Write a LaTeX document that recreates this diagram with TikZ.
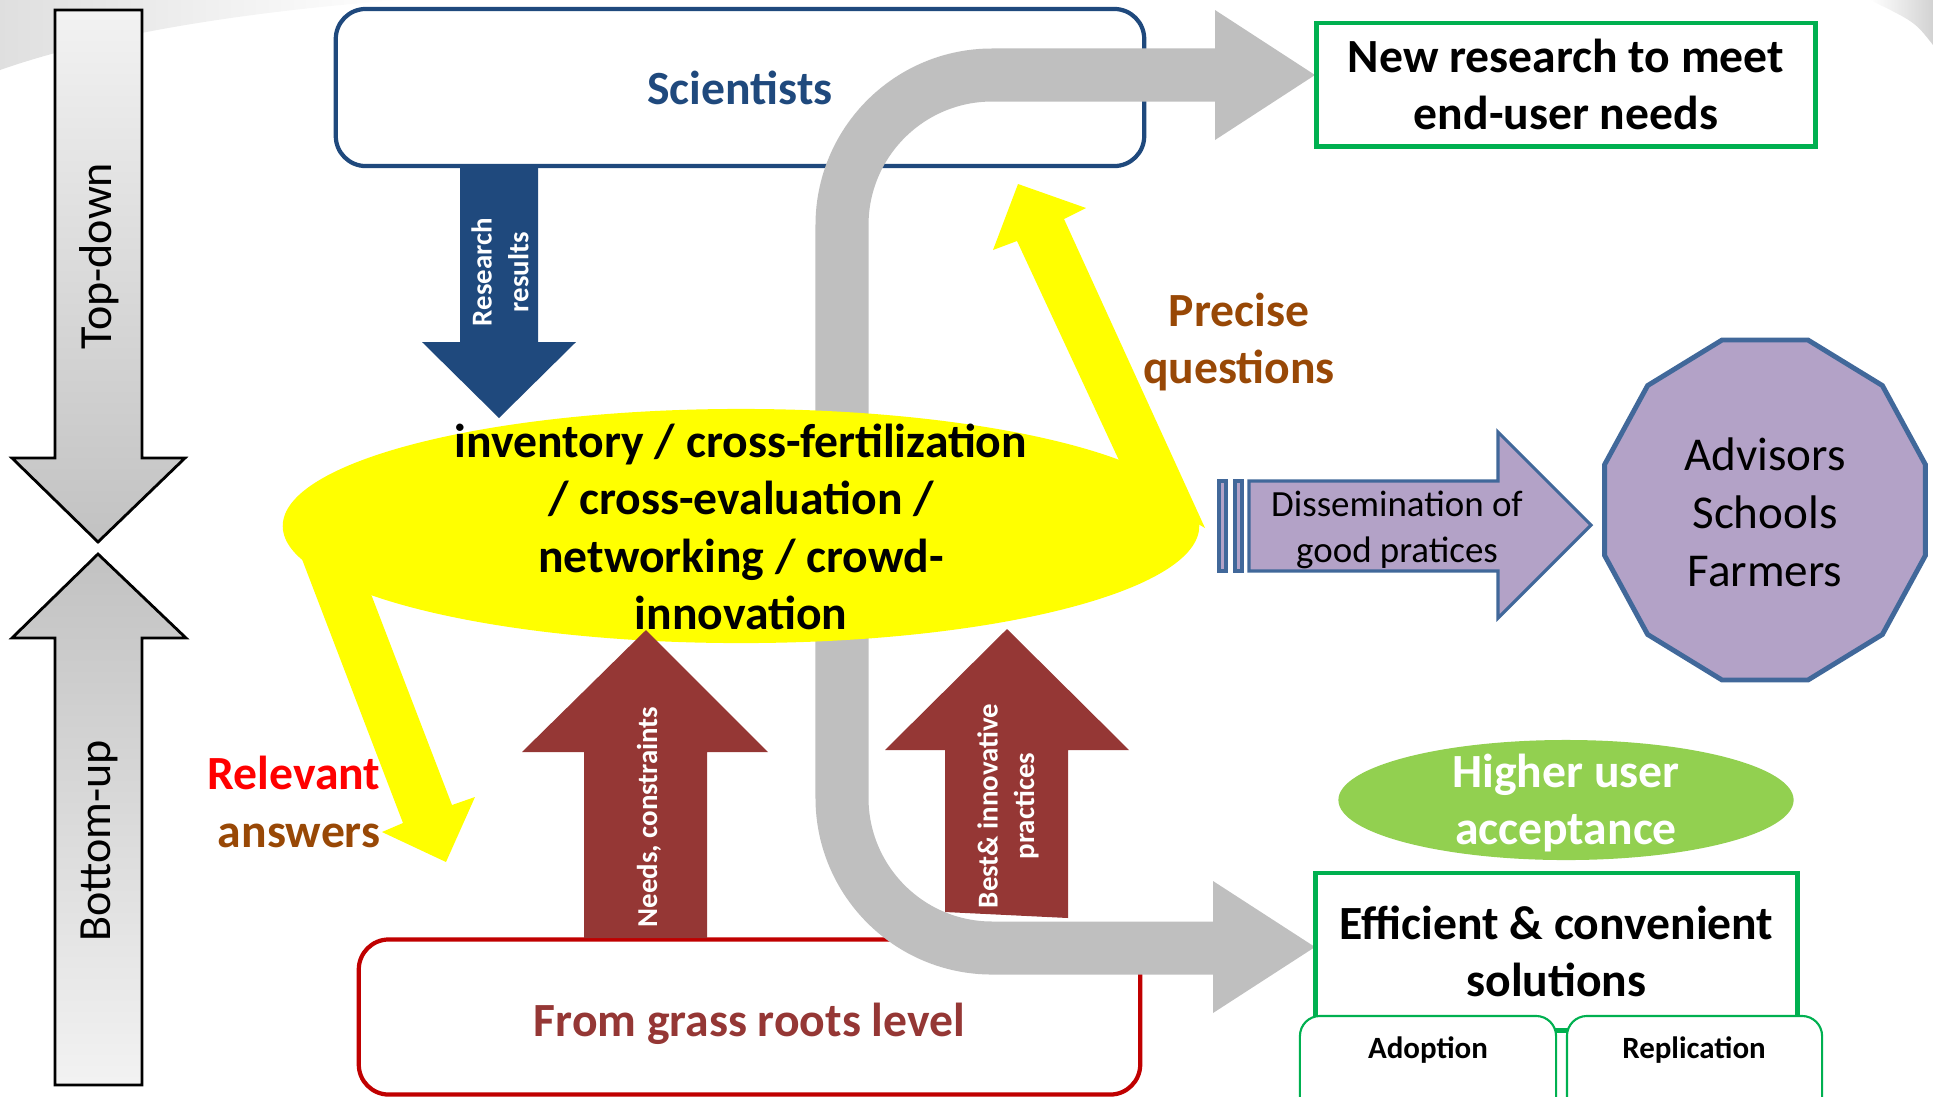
\documentclass[tikz,border=0pt]{standalone}
\usepackage{fontspec}
\setmainfont{Carlito}
\usetikzlibrary{shapes}

\definecolor{sciblue}{HTML}{1F497D}
\definecolor{brick}{HTML}{953735}
\definecolor{grassred}{HTML}{C00000}
\definecolor{pipegray}{HTML}{BFBFBF}
\definecolor{hiyellow}{HTML}{FFFF00}
\definecolor{okgreen}{HTML}{00B050}
\definecolor{leafgreen}{HTML}{92D050}
\definecolor{lavender}{HTML}{B3A2C7}
\definecolor{slateblue}{HTML}{41689A}
\definecolor{rust}{HTML}{984806}

\begin{document}
\begin{tikzpicture}[x=0.01cm,y=-0.01cm,
  bigtxt/.style={font=\fontsize{13.55}{16.3}\selectfont\bfseries},
  sidetxt/.style={font=\fontsize{13.1}{16}\selectfont},
  arrowtxt/.style={font=\fontsize{8.2}{10.4}\selectfont\bfseries,text=white,align=center},
  smalltxt/.style={font=\fontsize{8.8}{11}\selectfont\bfseries},
  flowarrow/.style={draw=black,line width=0.8pt},
  goalbox/.style={draw=okgreen,line width=1.4pt,fill=white,bigtxt,align=center},
  smallbox/.style={draw=okgreen,line width=0.6pt,fill=white,rounded corners=0.2cm},
  pipe/.style={draw=pipegray,line width=0.53cm,rounded corners=1.5cm},
  spread/.style={fill=lavender,draw=slateblue,line width=0.9pt}]
\useasboundingbox (0,0) rectangle (1933,1096);
\clip (0,0) rectangle (1933,1096);

\shade[left color=gray!25,right color=white] (0,0) -- (400,0) .. controls (240,12) and (100,35) .. (0,70) -- cycle;
\shade[left color=white,right color=gray!35] (1870,0) -- (1933,0) -- (1933,45) .. controls (1915,22) .. (1870,0) -- cycle;

\shadedraw[flowarrow,top color=gray!10,bottom color=gray!48] (55,10) -- (142,10) -- (142,458) -- (185,458) -- (98,542) -- (12,458) -- (55,458) -- cycle;
\shadedraw[flowarrow,top color=gray!48,bottom color=gray!10] (55,1085) -- (142,1085) -- (142,638) -- (186,638) -- (98,554) -- (12,638) -- (55,638) -- cycle;
\node (topdown) at (99,256) [rotate=90,sidetxt] {Top-down};
\node (bottomup) at (99,841) [rotate=90,sidetxt] {Bottom-up};

\node (grass) at (749.5,1017) [draw=grassred,line width=1.2pt,fill=white,rounded corners=0.3cm,minimum width=7.81cm,minimum height=1.55cm,bigtxt,text=brick,text height=11.3pt,text depth=0pt] {From grass roots level};
\node (sci) at (740,87.5) [draw=sciblue,line width=1.2pt,fill=white,rounded corners=0.3cm,minimum width=8.08cm,minimum height=1.57cm,bigtxt,text=sciblue] {Scientists};

\fill[sciblue] (460,166) -- (538,166) -- (538,342) -- (576,342) -- (499,418) -- (422,342) -- (460,342) -- cycle;
\node (resres) at (500,272) [rotate=90,arrowtxt] {Research\\results};

\draw[pipe] (1217,75) -- (842,75) -- (842,948) -- (1216,948);
\coordinate (qtop) at (1315,75);
\coordinate (qbot) at (1315,947);
\fill[pipegray] (1215,10) -- (qtop) -- (1215,140) -- cycle;
\fill[pipegray] (1213,881) -- (qbot) -- (1213,1013) -- cycle;

\fill[hiyellow] (292,533) -- (403,823) -- (382,832) -- (446,862) -- (475,797) -- (452,805) -- (361,568) -- cycle;
\fill[hiyellow] (1130,484) -- (1017,241) -- (993,250) -- (1018,184) -- (1086,208) -- (1064,219) -- (1205,528) -- cycle;
\node (hub) at (741,526) [ellipse,fill=hiyellow,minimum width=9.16cm,minimum height=2.34cm] {};
\node (hubtxt) at (741,527) [bigtxt,align=center] {inventory / cross-fertilization\\/ cross-evaluation /\\networking / crowd-\\innovation};

\fill[brick] (584,938) -- (584,752) -- (522,752) -- (646,630) -- (768,752) -- (707,752) -- (707,938) -- cycle;
\node (needs) at (649,817) [rotate=90,arrowtxt] {Needs, constraints};
\fill[brick] (945,912) -- (945,750) -- (885,750) -- (1007,629) -- (1129,750) -- (1068,750) -- (1068,918) -- cycle;
\node (best) at (1008,806) [rotate=90,arrowtxt] {Best\& innovative\\practices};

\node (newres) at (1566,84.5) [goalbox,minimum width=4.98cm,minimum height=1.23cm] {New research to meet\\end-user needs};
\node (accept) at (1566,800) [ellipse,fill=leafgreen,minimum width=4.55cm,minimum height=1.2cm] {};
\node (accepttxt) at (1566,803) [bigtxt,text=white,align=center] {Higher user\\acceptance};
\node (solutions) at (1556.5,951.5) [goalbox,minimum width=4.81cm,minimum height=1.57cm] {Efficient \& convenient\\solutions};
\node (adopt) at (1428,1076) [smallbox,minimum width=2.56cm,minimum height=1.2cm] {};
\node (replic) at (1694.5,1076) [smallbox,minimum width=2.55cm,minimum height=1.2cm] {};
\node (adopttxt) at (1428,1050) [smalltxt] {Adoption};
\node (replictxt) at (1694,1050) [smalltxt] {Replication};

\filldraw[spread] (1249,481) -- (1498,481) -- (1498,432) -- (1591,525) -- (1498,618) -- (1498,571) -- (1249,571) -- cycle;
\filldraw[spread] (1219,481) rectangle (1226,571);
\filldraw[spread] (1235,481) rectangle (1242,571);
\node (dissem) at (1397,530) [font=\fontsize{10.5}{12.9}\selectfont,align=center] {Dissemination of\\good pratices};

\filldraw[spread,line width=1.4pt] plot[samples at={15,45,...,345}] ({1765+166*cos(\x)},{510+176*sin(\x)}) -- cycle;
\node (users) at (1765,512) [font=\fontsize{13.4}{16.5}\selectfont,align=center] {Advisors\\Schools\\Farmers};

\node (precise) at (1239,342) [bigtxt,text=rust,align=center] {Precise\\questions};
\node (relevant) at (381,802) [bigtxt,anchor=east,align=right,inner sep=0pt] {\textcolor{red}{Relevant}\\\textcolor{rust}{answers}};
\end{tikzpicture}
\end{document}
